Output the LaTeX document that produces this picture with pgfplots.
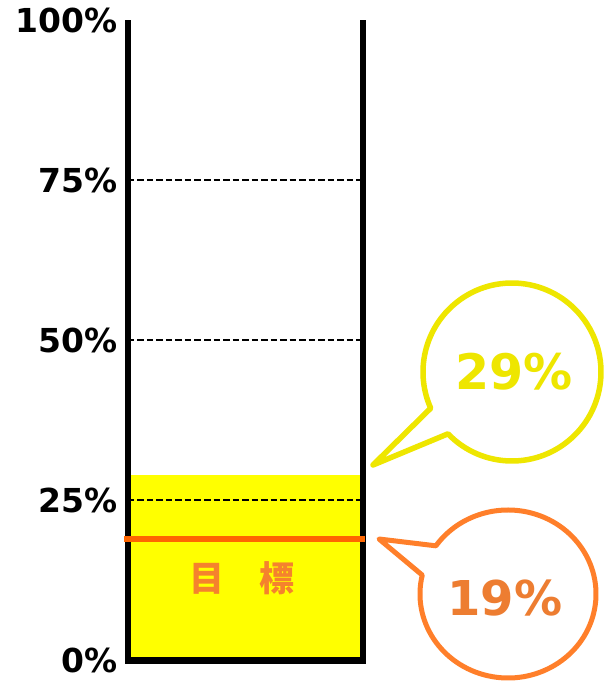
\documentclass[border=0pt]{standalone}
\usepackage{pgfplots}
\pgfplotsset{compat=1.18}
\usetikzlibrary{calc}
\usepackage{fontspec}
\setmainfont{DejaVu Sans}
\newfontfamily\cjk{Noto Sans CJK JP}

\definecolor{barfill}{RGB}{255,255,0}
\definecolor{goal}{RGB}{255,102,0}
\definecolor{goaltext}{RGB}{245,130,45}
\definecolor{bubyellow}{RGB}{238,230,0}
\definecolor{buborange}{RGB}{255,127,42}
\definecolor{numorange}{RGB}{237,125,49}

\begin{document}
\begin{tikzpicture}
\useasboundingbox (0,0) rectangle (603pt,683pt);

\begin{axis}[
    at={(128pt,22.5pt)}, anchor=south west,
    scale only axis, width=234.5pt, height=640pt,
    xmin=0, xmax=1, ymin=0, ymax=100,
    clip=false,
    axis line style={draw=none},
    tick style={draw=none},
    major tick length=0pt,
    xtick=\empty,
    ytick={0,25,50,75,100},
    yticklabels={0\%,25\%,50\%,75\%,100\%},
    /pgf/number format/assume math mode=true,
    yticklabel style={font=\fontsize{33}{33}\selectfont\bfseries,
        inner sep=0pt, anchor=east, xshift=-10pt},
]
% bar: 29%
\addplot[fill=barfill, draw=none] coordinates {(0,29) (1,29)} \closedcycle;

% dashed gridlines
\addplot[black, line width=2pt, dash pattern=on 6.5pt off 3pt]
    coordinates {(0,25) (1,25)};
\addplot[black, line width=2pt, dash pattern=on 6.5pt off 3pt]
    coordinates {(0,50) (1,50)};
\addplot[black, line width=2pt, dash pattern=on 6.5pt off 3pt]
    coordinates {(0,75) (1,75)};

% frame: left, bottom, right
\draw[black, line width=6pt]
    (rel axis cs:0,1) -- (rel axis cs:0,0) -- (rel axis cs:1,0) -- (rel axis cs:1,1);

% target line: 19%
\addplot[goal, line width=5.5pt] coordinates {(-0.015,19) (1.012,19)};
\end{axis}

% annotations, in pixel coordinates of the reference
\begin{scope}[x=1pt, y=-1pt, yshift=683pt]
  \node[text=goaltext, font=\cjk\bfseries\fontsize{35}{35}\selectfont]
      at (242,578) {目　標};

  % yellow bubble
  \draw[bubyellow, line width=5.5pt, fill=white, line join=round]
      ($(512,372)+(156:89)$) -- (373,465) -- ($(512,372)+(136:89)$)
      arc[start angle=136, end angle=-204, radius=89] -- cycle;
  \node[text=bubyellow, font=\bfseries\fontsize{49}{49}\selectfont]
      at (514,372) {29\%};

  % orange bubble
  \draw[buborange, line width=5pt, fill=white, line join=round]
      ($(508,594)+(215:88 and 84)$) -- (379,539) -- ($(508,594)+(193:88 and 84)$)
      arc[start angle=193, end angle=-145, x radius=88, y radius=84] -- cycle;
  \node[text=numorange, font=\bfseries\fontsize{48}{48}\selectfont]
      at (505,598) {19\%};
\end{scope}
\end{tikzpicture}
\end{document}
